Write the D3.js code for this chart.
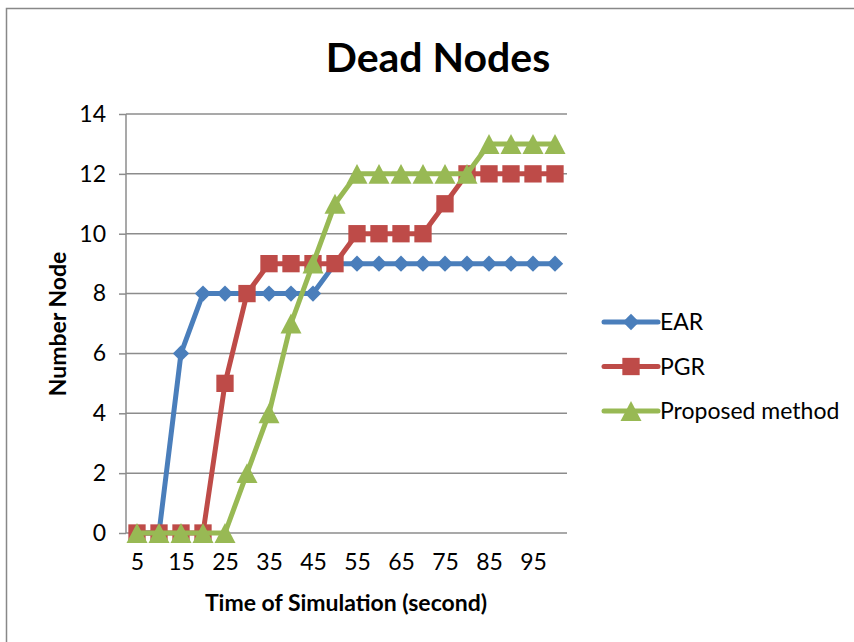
<!DOCTYPE html>
<html>
<head>
<meta charset="utf-8">
<title>Dead Nodes</title>
<style>
    body { margin: 0; background: #fff; }
    svg text { font-family: "Lato", "Open Sans", sans-serif; fill: #000; }
    .axis .domain { display: none; }
</style>
</head>
<body>
<div id="chart"></div>
<script src="https://d3js.org/d3.v7.min.js"></script>
<script>
    // data
    var times = [5, 10, 15, 20, 25, 30, 35, 40, 45, 50, 55, 60, 65, 70, 75, 80, 85, 90, 95, 100];
    var earValues = [0, 0, 6, 8, 8, 8, 8, 8, 8, 9, 9, 9, 9, 9, 9, 9, 9, 9, 9, 9];
    var pgrValues = [0, 0, 0, 0, 5, 8, 9, 9, 9, 9, 10, 10, 10, 10, 11, 12, 12, 12, 12, 12];
    var proposedValues = [0, 0, 0, 0, 0, 2, 4, 7, 9, 11, 12, 12, 12, 12, 12, 12, 13, 13, 13, 13];
    var seriesNames = ['EAR', 'PGR', 'Proposed method'];
    var yTicks = [0, 2, 4, 6, 8, 10, 12, 14];
    var xTickLabels = [5, 15, 25, 35, 45, 55, 65, 75, 85, 95];

    var width = 854, height = 642;
    var plotLeft = 126, plotRight = 566, plotTop = 114, plotBottom = 533;

    // excel-like triangle, centred on its bounding box (size = width)
    var boxTriangle = {
        draw: function(context, size) {
            var w = size, h = size * 0.95;
            context.moveTo(0, -h / 2);
            context.lineTo(w / 2, h / 2);
            context.lineTo(-w / 2, h / 2);
            context.closePath();
        }
    };

    var colors = ['#4a7ebb', '#be4b48', '#98b954'];
    var shapes = [d3.symbolDiamond2, d3.symbolSquare, boxTriangle];
    var shapeSizes = [170, 300, 21];

    var series = [earValues, pgrValues, proposedValues].map(function(vals, i) {
        return { name: seriesNames[i], values: vals, color: colors[i], shape: shapes[i], size: shapeSizes[i] };
    });

    var svg = d3.select('#chart').append('svg')
        .attr('width', width)
        .attr('height', height);

    // outer frame
    svg.append('rect')
        .attr('x', 6.5).attr('y', 8.5)
        .attr('width', 900).attr('height', 700)
        .attr('fill', 'none')
        .attr('stroke', '#888')
        .attr('stroke-width', 1.5);

    var x = d3.scalePoint()
        .domain(times)
        .range([plotLeft, plotRight])
        .padding(0.5);

    var y = d3.scaleLinear()
        .domain([0, 14])
        .range([plotBottom, plotTop]);

    // gridlines
    svg.append('g')
        .selectAll('line')
        .data(yTicks)
        .enter()
        .append('line')
        .attr('x1', plotLeft).attr('x2', plotRight + 1)
        .attr('y1', function(d) { return y(d); })
        .attr('y2', function(d) { return y(d); })
        .attr('stroke', '#8c8c8c')
        .attr('stroke-width', 1.5);

    // y axis
    var yAxis = svg.append('g')
        .attr('class', 'axis')
        .attr('transform', 'translate(' + plotLeft + ',0)')
        .call(d3.axisLeft(y).tickValues(yTicks).tickSize(7).tickPadding(13));
    yAxis.selectAll('line').attr('stroke', '#8c8c8c').attr('stroke-width', 1.5);
    yAxis.selectAll('text').style('font-size', '23px');
    svg.append('line')
        .attr('x1', plotLeft).attr('x2', plotLeft)
        .attr('y1', plotTop).attr('y2', plotBottom)
        .attr('stroke', '#8c8c8c')
        .attr('stroke-width', 1.5);

    // x axis
    var xAxis = svg.append('g')
        .attr('class', 'axis')
        .attr('transform', 'translate(0,' + plotBottom + ')')
        .call(d3.axisBottom(x).tickValues(xTickLabels).tickSize(0).tickPadding(21));
    xAxis.selectAll('text').style('font-size', '23px');

    var line = d3.line()
        .x(function(d, i) { return x(times[i]); })
        .y(function(d) { return y(d); });

    series.forEach(function(s) {
        svg.append('path')
            .datum(s.values)
            .attr('d', line)
            .attr('fill', 'none')
            .attr('stroke', s.color)
            .attr('stroke-width', 5)
            .attr('stroke-linejoin', 'round');

        svg.append('g')
            .selectAll('path')
            .data(s.values)
            .enter()
            .append('path')
            .attr('d', d3.symbol().type(s.shape).size(s.size))
            .attr('transform', function(d, i) {
                return 'translate(' + x(times[i]) + ',' + y(d) + ')';
            })
            .attr('fill', s.color);
    });

    // title
    svg.append('text')
        .attr('x', 438).attr('y', 72)
        .attr('text-anchor', 'middle')
        .style('font-size', '41px')
        .style('font-weight', 'bold')
        .text('Dead Nodes');

    // axis titles
    svg.append('text')
        .attr('transform', 'translate(66,324) rotate(-90)')
        .attr('text-anchor', 'middle')
        .style('font-size', '23px')
        .style('font-weight', 'bold')
        .text('Number Node');

    svg.append('text')
        .attr('x', 346).attr('y', 611)
        .attr('text-anchor', 'middle')
        .style('font-size', '23px')
        .style('font-weight', 'bold')
        .text('Time of Simulation (second)');

    // legend
    var legend = svg.selectAll('.legend')
        .data(series)
        .enter()
        .append('g')
        .attr('class', 'legend')
        .attr('transform', function(d, i) {
            return 'translate(604,' + (322 + i * 44.5) + ')';
        });

    legend.append('line')
        .attr('x1', 0).attr('x2', 54)
        .attr('stroke', function(d) { return d.color; })
        .attr('stroke-width', 5)
        .attr('stroke-linecap', 'round');

    legend.append('path')
        .attr('d', function(d) { return d3.symbol().type(d.shape).size(d.size)(); })
        .attr('transform', 'translate(27,0)')
        .attr('fill', function(d) { return d.color; });

    legend.append('text')
        .attr('x', 56)
        .attr('y', 8)
        .style('font-size', '23px')
        .text(function(d) { return d.name; });
</script>
</body>
</html>
